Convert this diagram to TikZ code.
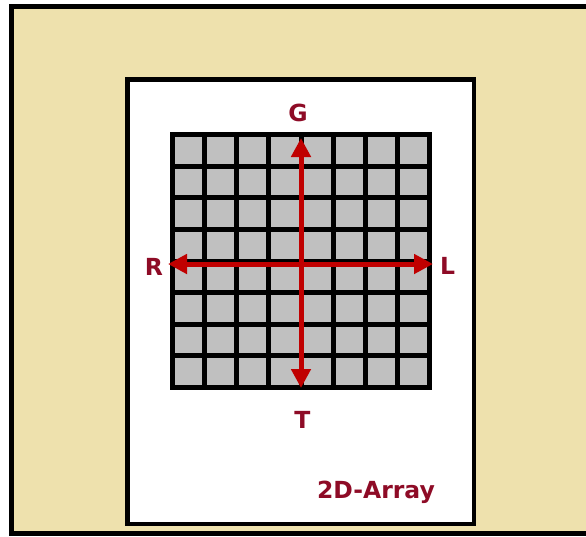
\documentclass[tikz,border=0pt]{standalone}
\usepackage{fontspec}
\setmainfont{DejaVu Sans}
\usetikzlibrary{arrows.meta}
\definecolor{PaperTan}{HTML}{EEE1AD}
\definecolor{CellGray}{HTML}{C0C0C0}
\definecolor{AxisRed}{HTML}{C00000}
\definecolor{LabelRed}{HTML}{8E0B26}

\begin{document}
\begin{tikzpicture}[
    x=1pt, y=-1pt,
    frame/.style={draw=black, line width=4.5pt},
    axis/.style={AxisRed, line width=5pt, {Triangle[width=19pt,length=19pt]}-{Triangle[width=19pt,length=19pt]}},
    dirlabel/.style={text=LabelRed, font=\fontsize{23.5}{28}\selectfont\bfseries, inner sep=0pt}
]
\clip (0,0) rectangle (586,536);
% sheet and array frame
\draw[frame, fill=PaperTan] (11.7,6.5) rectangle (610,533.5);
\draw[frame, fill=white] (127.5,79.5) rectangle (474,524);
% the 8x8 array
\fill[CellGray] (172.5,134.5) rectangle (429.5,387.5);
\foreach \i in {0,...,8} {
    \draw[black, line width=5pt, line cap=rect] (172.5+32.125*\i,134.5) -- (172.5+32.125*\i,387.5);
    \draw[black, line width=5pt, line cap=rect] (172.5,134.5+31.625*\i) -- (429.5,134.5+31.625*\i);
}
% arrow ends
\coordinate (top) at (301,138);
\coordinate (bottom) at (301,388);
\coordinate (left) at (168,264);
\coordinate (right) at (433,264);
\draw[axis] (bottom) -- (top);
\draw[axis] (left) -- (right);
% labels
\node[dirlabel] (g) at (298,112.5) {G};
\node[dirlabel] (t) at (302.5,420) {T};
\node[dirlabel] (r) at (154,266.5) {R};
\node[dirlabel] (l) at (447.5,266) {L};
\node[dirlabel, anchor=base] (name) at (376,498) {2D-Array};
\end{tikzpicture}
\end{document}
